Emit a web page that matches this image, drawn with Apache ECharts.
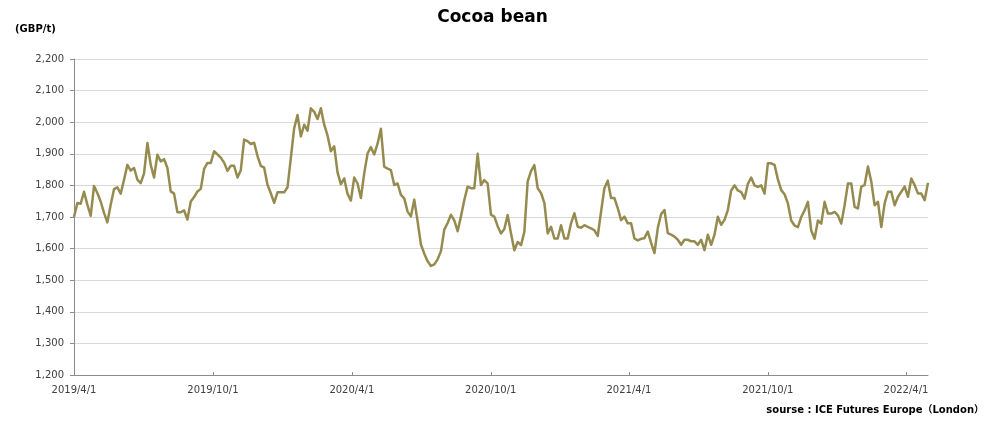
<!DOCTYPE html>
<html>
<head>
<meta charset="utf-8">
<script src="https://cdn.jsdelivr.net/npm/echarts@6/dist/echarts.min.js"></script>
<style>
  html, body { margin: 0; padding: 0; background: #ffffff; }
  #chart { width: 985px; height: 423px; }
</style>
</head>
<body>
<div id="chart"></div>
<script>
// ---- data ----
const titleText = 'Cocoa bean';
const unitText = '(GBP/t)';
const sourceText = 'sourse : ICE Futures Europe（London）';
const startDate = '2019/4/1';
const endDate = '2022/4/30';            // right end of the time axis
const xTickLabels = ['2019/4/1', '2019/10/1', '2020/4/1', '2020/10/1', '2021/4/1', '2021/10/1', '2022/4/1'];
const yMin = 1200, yMax = 2200, yStep = 100;
// price readings, evenly spaced from startDate to endDate (GBP/t)
const prices = [
  1700, 1744, 1742, 1780, 1739, 1704, 1798, 1776, 1749, 1713,
  1683, 1739, 1788, 1794, 1774, 1818, 1865, 1847, 1855, 1818,
  1807, 1838, 1934, 1865, 1825, 1897, 1876, 1883, 1855, 1781,
  1774, 1715, 1715, 1721, 1692, 1749, 1763, 1781, 1789, 1852,
  1871, 1871,
  1908, 1898, 1888, 1872, 1846, 1862, 1862, 1825, 1848, 1945,
  1940, 1931, 1935, 1893, 1862, 1856, 1802, 1775, 1745, 1778,
  1778, 1778, 1794, 1886, 1981, 2023, 1955, 1992, 1973, 2044,
  2033, 2010, 2044, 1992, 1958, 1908, 1924, 1841, 1804, 1822,
  1773, 1752,
  1825, 1806, 1760, 1838, 1901, 1921, 1898, 1932, 1979, 1859,
  1853, 1848, 1801, 1806, 1770, 1759, 1717, 1702, 1755, 1686,
  1613, 1584, 1560, 1545, 1550, 1566, 1592, 1660, 1681, 1707,
  1689, 1655, 1702, 1754, 1796, 1791, 1791, 1900, 1801, 1817,
  1806, 1707,
  1701, 1671, 1648, 1662, 1706, 1648, 1595, 1621, 1611, 1653,
  1813, 1845, 1864, 1791, 1776, 1745, 1648, 1669, 1632, 1632,
  1674, 1632, 1632, 1680, 1712, 1669, 1666, 1674, 1669, 1664,
  1658, 1640, 1717, 1791, 1815, 1760, 1760, 1728, 1690, 1701,
  1680, 1680,
  1632, 1626, 1631, 1633, 1654, 1618, 1586, 1665, 1709, 1722,
  1649, 1644, 1638, 1628, 1612, 1628, 1628, 1623, 1623, 1612,
  1628, 1595, 1644, 1612, 1644, 1701, 1675, 1691, 1722, 1784,
  1800, 1784, 1779, 1758, 1805, 1825, 1800, 1795, 1800,
  1774, 1870, 1870, 1865, 1819, 1785, 1772, 1743, 1689, 1673,
  1668, 1700, 1721, 1748, 1657, 1631, 1689, 1679, 1748, 1711,
  1711, 1716, 1705, 1679, 1737, 1806, 1806, 1732, 1727, 1796,
  1801, 1860, 1812, 1737, 1748, 1668, 1743, 1780, 1780, 1737,
  1764, 1780, 1796, 1764, 1822, 1801, 1774, 1774, 1753, 1808
];

// ---- helpers ----
const DAY = 86400000;
const dayOffset = s => Math.round((Date.parse(s) - Date.parse(startDate)) / DAY);
const xMax = dayOffset(endDate);
const stepDays = xMax / (prices.length - 1);
const seriesData = prices.map((v, i) => [i * stepDays, v]);
const tickOffsets = xTickLabels.map(dayOffset);

const FONT = "'DejaVu Sans', Verdana, sans-serif";
const chart = echarts.init(document.getElementById('chart'), null, { renderer: 'canvas' });

chart.setOption({
  backgroundColor: '#ffffff',
  animation: false,
  title: {
    text: titleText,
    left: 'center',
    top: 4,
    textStyle: { fontFamily: FONT, fontSize: 17, fontWeight: 'bold', color: '#000000' }
  },
  graphic: [
    {
      type: 'text', left: 15, top: 24,
      style: { text: unitText, font: "bold 10px 'DejaVu Sans', Verdana, sans-serif", fill: '#000000' }
    },
    {
      type: 'text', right: 1, top: 405,
      style: { text: sourceText, font: "bold 10px 'DejaVu Sans', 'Noto Sans CJK JP', sans-serif", fill: '#000000' }
    }
  ],
  grid: { left: 74, right: 57, top: 59, bottom: 48, containLabel: false },
  xAxis: {
    type: 'value',
    min: 0,
    max: xMax,
    axisLine: { show: true, lineStyle: { color: '#8c8c8c', width: 1 } },
    axisTick: { show: true, inside: true, length: 3, customValues: tickOffsets, lineStyle: { color: '#8c8c8c' } },
    splitLine: { show: false },
    axisLabel: {
      customValues: tickOffsets,
      formatter: v => {
        const k = tickOffsets.indexOf(Math.round(v));
        return k >= 0 ? xTickLabels[k] : '';
      },
      margin: 10,
      fontFamily: FONT, fontSize: 10, color: '#404040'
    }
  },
  yAxis: {
    type: 'value',
    min: yMin,
    max: yMax,
    interval: yStep,
    axisLine: { show: true, lineStyle: { color: '#8c8c8c', width: 1 } },
    axisTick: { show: true, inside: false, length: 4, lineStyle: { color: '#8c8c8c' } },
    splitLine: { show: true, lineStyle: { color: '#d9d9d9', width: 1 } },
    axisLabel: {
      formatter: v => v.toLocaleString('en-US'),
      margin: 10,
      fontFamily: FONT, fontSize: 10, color: '#404040'
    }
  },
  series: [{
    type: 'line',
    data: seriesData,
    showSymbol: false,
    symbol: 'none',
    smooth: false,
    lineStyle: { color: '#968b4f', width: 2.5, join: 'round' },
    itemStyle: { color: '#968b4f' },
    z: 3
  }]
});
</script>
</body>
</html>
